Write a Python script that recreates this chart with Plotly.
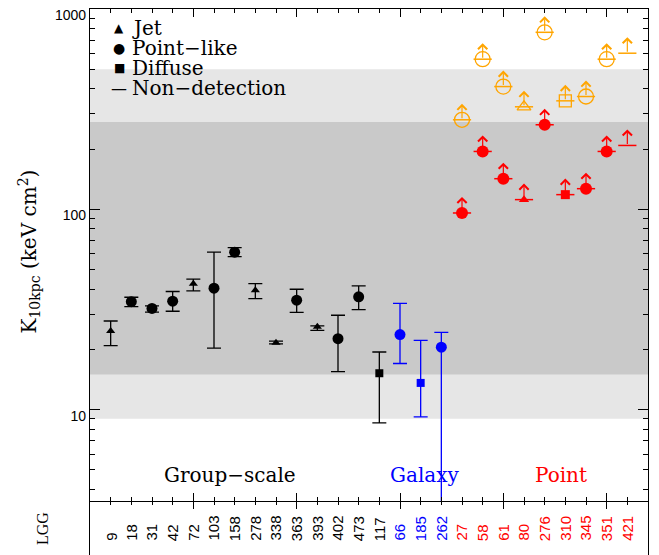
import numpy as np
import plotly.graph_objects as go

# LGG identifiers along the x axis
lgg_ids = ["9", "18", "31", "42", "72", "103", "158", "278", "338", "363", "393",
           "402", "473", "117", "66", "185", "262", "27", "58", "61", "80", "276",
           "310", "345", "351", "421"]
id_colors = ["black"] * 14 + ["blue"] * 3 + ["red"] * 9

# detections (first 17 groups): K10kpc with upper / lower bounds
det_k = [24.7, 34.6, 32.0, 34.8, 42.5, 40.4, 61.1, 39.5, 21.6, 35.2, 25.9, 22.6,
         36.6, 15.2, 23.7, 13.6, 20.5]
det_hi = [27.7, 36.4, 33.0, 38.9, 44.8, 61.1, 64.4, 42.6, 22.0, 39.9, 26.2, 29.6,
          41.5, 19.4, 33.9, 22.2, 24.3]
det_lo = [20.9, 32.7, 30.7, 31.0, 39.2, 20.3, 58.1, 35.8, 21.3, 30.6, 24.9, 15.5,
          31.6, 8.6, 17.0, 9.2, 1.0]
det_morph = ["jet", "point", "point", "point", "jet", "point", "point", "jet", "jet",
             "point", "jet", "point", "point", "diffuse", "point", "diffuse", "point"]
det_color = ["black"] * 14 + ["blue"] * 3

# lower limits for the point-scale systems (last 9 groups)
lim_red_k = [95.9, 194.5, 142.2, 111.8, 264.3, 118.4, 126.8, 194.5, 208.4]
lim_orange_k = [279.9, 561.6, 410.0, 325.0, 765.0, 348.0, 365.7, 561.6, 601.6]
lim_morph = ["point", "point", "point", "jet", "point", "diffuse", "point", "point", "none"]

band_outer = [9, 500]
band_inner = [15, 273]

group_names = ["Group\u2212scale", "Galaxy", "Point"]
group_colors = ["black", "blue", "red"]
group_x = [6.75, 16.2, 22.8]

COLORS = {"black": "#000000", "blue": "#0000ff", "red": "#ff0000", "orange": "#ffa500"}
SYMBOL = {"jet": "triangle-up", "point": "circle", "diffuse": "square"}
SIZE = {"jet": 8, "point": 11, "diffuse": 8}
SERIF = "DejaVu Serif"
SANS = "Liberation Sans"
ARROW_DEX = 0.08  # arrow length in decades

x_det = np.arange(1, len(det_k) + 1)
x_lim = np.arange(len(det_k) + 1, len(lgg_ids) + 1)

fig = go.Figure()

fig.add_hrect(y0=band_outer[0], y1=band_outer[1], fillcolor="#e6e6e6", line_width=0, layer="below")
fig.add_hrect(y0=band_inner[0], y1=band_inner[1], fillcolor="#c9c9c9", line_width=0, layer="below")

det_k_arr = np.array(det_k)
for color in ["black", "blue"]:
    for morph in ["jet", "point", "diffuse"]:
        idx = [i for i in range(len(det_k)) if det_color[i] == color and det_morph[i] == morph]
        if not idx:
            continue
        fig.add_trace(go.Scatter(
            x=x_det[idx], y=det_k_arr[idx],
            mode="markers",
            marker=dict(symbol=SYMBOL[morph], size=SIZE[morph], color=COLORS[color]),
            error_y=dict(type="data", symmetric=False,
                         array=np.array(det_hi)[idx] - det_k_arr[idx],
                         arrayminus=det_k_arr[idx] - np.array(det_lo)[idx],
                         color=COLORS[color], thickness=1.3, width=7),
            showlegend=False,
        ))

# lower limits: bar + marker + upward arrow
for vals, color, filled in [(lim_orange_k, "orange", False), (lim_red_k, "red", True)]:
    vals = np.array(vals)
    fig.add_trace(go.Scatter(
        x=x_lim, y=vals, mode="markers",
        marker=dict(symbol="line-ew", size=13, line=dict(width=1.5, color=COLORS[color])),
        showlegend=False,
    ))
    for morph in ["jet", "point", "diffuse"]:
        idx = [i for i in range(len(vals)) if lim_morph[i] == morph]
        if filled:
            marker = dict(symbol=SYMBOL[morph], size=SIZE[morph] + 1, color=COLORS[color])
        else:
            marker = dict(symbol=SYMBOL[morph] + "-open", size=SIZE[morph] + 4,
                          color=COLORS[color], line=dict(width=1.3, color=COLORS[color]))
        fig.add_trace(go.Scatter(x=x_lim[idx], y=vals[idx], mode="markers",
                                 marker=marker, showlegend=False))
    for xv, v in zip(x_lim, vals):
        fig.add_annotation(
            x=xv, y=np.log10(v) + ARROW_DEX, xref="x", yref="y", text="", showarrow=True,
            ax=0, ay=16, arrowhead=4, arrowsize=1.5, arrowwidth=1.2,
            arrowcolor=COLORS[color], standoff=0,
        )

# empty trace so the lower label strip gets drawn
fig.add_trace(go.Scatter(x=[], y=[], xaxis="x2", yaxis="y2", showlegend=False, hoverinfo="skip"))

# group labels
for name, gx, gc in zip(group_names, group_x, group_colors):
    fig.add_annotation(x=gx, y=0.1588, xref="x", yref="paper", text=name, showarrow=False,
                       xanchor="center", yanchor="middle",
                       font=dict(family=SERIF, size=20, color=COLORS[gc]))

# legend drawn as text
legend_rows = [("\u25b2", "Jet", 12), ("\u25cf", "Point\u2212like", 14),
               ("\u25a0", "Diffuse", 12), ("\u2014", "Non\u2212detection", 16)]
for k, (glyph, label, gsize) in enumerate(legend_rows):
    yy = 0.9657 - k * 0.0361
    fig.add_annotation(x=0.0520, y=yy, xref="paper", yref="paper", text=glyph,
                       xanchor="center", yanchor="middle", showarrow=False, borderpad=0,
                       font=dict(family="DejaVu Sans", size=gsize, color="black"))
    fig.add_annotation(x=0.0735, y=yy, xref="paper", yref="paper", text=label,
                       xanchor="left", yanchor="middle", showarrow=False, borderpad=0,
                       font=dict(family=SERIF, size=20, color="black"))

# y-axis title
fig.add_annotation(x=-0.1084, y=0.5614, xref="paper", yref="paper",
                   text="K<sub>10kpc</sub> (keV cm<sup>2</sup>)", textangle=-90,
                   xanchor="center", yanchor="middle", showarrow=False,
                   font=dict(family=SERIF, size=20, color="black"))

fig.add_annotation(x=-0.0842, y=0.0614, xref="paper", yref="paper", text="LGG",
                   textangle=-90, xanchor="center", yanchor="middle", showarrow=False,
                   font=dict(family="Liberation Serif", size=16, color="black"))

# LGG ids in the lower strip
for xv, t, c in zip(range(1, len(lgg_ids) + 1), lgg_ids, id_colors):
    fig.add_annotation(x=xv, y=0.0361, xref="x", yref="paper", text=t, textangle=-90,
                       xanchor="center", yanchor="bottom", showarrow=False,
                       font=dict(family=SANS, size=15, color=COLORS[c]))

minor_y = [m * 10 ** e for e in range(0, 3) for m in range(2, 10) if m * 10 ** e >= 3.5]
x_range = [0, 27]
major_x = [5, 10, 15, 20, 25]
minor_x = list(range(1, 27))
strip = 0.1119

fig.update_layout(
    width=659, height=555,
    margin=dict(l=82, r=19, t=1, b=0),
    plot_bgcolor="white", paper_bgcolor="white",
    showlegend=False,
    xaxis=dict(domain=[0, 1], anchor="y", range=x_range, tickmode="array", tickvals=major_x,
               ticks="inside", ticklen=8, tickcolor="black", showticklabels=False,
               showline=True, linecolor="black", linewidth=1.2, mirror="allticks",
               showgrid=False, zeroline=False, automargin=False,
               minor=dict(tickmode="array", tickvals=minor_x, ticks="inside", ticklen=4,
                          tickcolor="black", showgrid=False)),
    yaxis=dict(domain=[strip, 1], anchor="x", type="log", range=[np.log10(3.5), 3],
               tickmode="array", tickvals=[10, 100, 1000], ticktext=["10", "100", "1000"],
               ticks="inside", ticklen=10, tickcolor="black",
               tickfont=dict(family=SANS, size=14, color="black"),
               ticklabelshift=6, ticklabeloverflow="allow",
               showline=True, linecolor="black", linewidth=1.2, mirror="allticks",
               showgrid=False, zeroline=False, automargin=False,
               minor=dict(tickmode="array", tickvals=minor_y, ticks="inside", ticklen=5,
                          tickcolor="black", showgrid=False)),
    xaxis2=dict(domain=[0, 1], anchor="y2", range=x_range, tickmode="array", tickvals=major_x,
                ticks="inside", ticklen=8, tickcolor="black", showticklabels=False,
                showline=False, mirror="allticks", showgrid=False, zeroline=False,
                automargin=False,
                minor=dict(tickmode="array", tickvals=minor_x, ticks="inside", ticklen=4,
                           tickcolor="black", showgrid=False)),
    yaxis2=dict(domain=[0, strip], anchor="x2", range=[0, 1], showticklabels=False,
                ticks="", showline=True, linecolor="black", linewidth=1.2, mirror=True,
                showgrid=False, zeroline=False, automargin=False),
)

fig.write_html("out.html")
